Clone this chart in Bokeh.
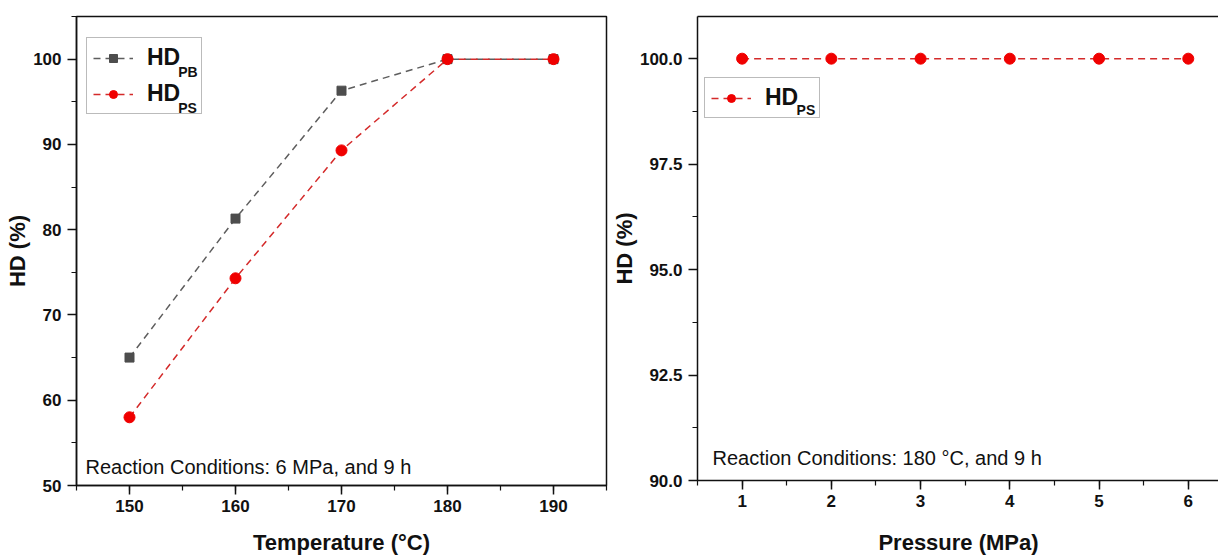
from bokeh.plotting import figure
from bokeh.layouts import row
from bokeh.models import (SingleIntervalTicker, NumeralTickFormatter, Legend, LegendItem,
                          Label, LinearAxis, FixedTicker, Range1d)
from bokeh.embed import file_html
from bokeh.resources import INLINE

# Hydrodeoxygenation degree vs. reaction temperature (6 MPa, 9 h)
temperature = [150, 160, 170, 180, 190]
hd_pb_temp = [65.0, 81.3, 96.3, 100.0, 100.0]
hd_ps_temp = [58.0, 74.3, 89.3, 100.0, 100.0]

# Hydrodeoxygenation degree vs. H2 pressure (180 °C, 9 h)
pressure = [1, 2, 3, 4, 5, 6]
hd_ps_pres = [100.0, 100.0, 100.0, 100.0, 100.0, 100.0]

temp_ticks_interval = 10
hd_ticks_interval = 10
pres_ticks_interval = 1
hd_pres_ticks_interval = 2.5

FONT = "Liberation Sans"
INK = "#111111"
GRAY_LINE = "#5e5e5e"
GRAY_MARK = "#4d4d4d"
RED_LINE = "#d42a2a"
RED_MARK = "#f00000"
DASH = "7 5"


def style_axes(p, x_label_standoff):
    for ax in p.xaxis + p.yaxis:
        ax.axis_line_width = 1.5
        ax.axis_line_color = INK
        ax.major_tick_line_width = 1.5
        ax.major_tick_line_color = INK
        ax.minor_tick_line_width = 1.2
        ax.minor_tick_line_color = INK
        ax.major_tick_in = 0
        ax.major_tick_out = 9
        ax.minor_tick_in = 0
        ax.minor_tick_out = 5
        ax.major_label_text_font = FONT
        ax.major_label_text_font_style = "bold"
        ax.major_label_text_font_size = "17px"
        ax.major_label_text_color = INK
        ax.axis_label_text_font = FONT
        ax.axis_label_text_font_style = "bold"
        ax.axis_label_text_font_size = "22px"
        ax.axis_label_text_color = INK
    for ax in p.xaxis:
        ax.major_label_standoff = 5
        ax.axis_label_standoff = x_label_standoff
    for ax in p.yaxis:
        ax.major_label_standoff = 6
        ax.axis_label_standoff = 0


def make_legend(items, loc):
    # transparent fill so the subscript labels drawn in the box stay visible
    return Legend(
        items=items, location=loc, orientation="vertical",
        glyph_width=40, glyph_height=20, label_standoff=14,
        label_width=48, label_height=27, spacing=9, padding=6, margin=0,
        label_text_font=FONT, label_text_font_style="bold",
        label_text_font_size="23px", label_text_color=INK,
        border_line_color="#777777", border_line_width=1,
        background_fill_alpha=0.0,
    )


def subscript(p, x, y, text):
    p.add_layout(Label(x=x, y=y, text=text, text_font=FONT, text_font_style="bold",
                       text_font_size="14px", text_color=INK, text_baseline="alphabetic",
                       level="overlay"))


def note(p, x, y, text):
    p.add_layout(Label(x=x, y=y, text=text, text_font=FONT, text_font_size="20px",
                       text_color=INK, text_baseline="alphabetic"))


# ---- left panel: temperature series ----
p1 = figure(frame_width=530, frame_height=469,
            min_border_left=76, min_border_right=2, min_border_top=13, min_border_bottom=74,
            x_range=Range1d(145, 195), y_range=Range1d(50, 105),
            x_axis_label="Temperature (°C)", y_axis_label="HD (%)",
            output_backend="svg", toolbar_location=None)
p1.grid.visible = False
p1.outline_line_color = INK
p1.outline_line_width = 1.5
p1.xaxis.ticker = SingleIntervalTicker(interval=temp_ticks_interval, num_minor_ticks=2)
p1.yaxis.ticker = SingleIntervalTicker(interval=hd_ticks_interval, num_minor_ticks=2)
style_axes(p1, 15)

l_pb = p1.line(temperature, hd_pb_temp, line_color=GRAY_LINE, line_width=1.5, line_dash=DASH)
s_pb = p1.scatter(temperature, hd_pb_temp, marker="square", size=9,
                  fill_color=GRAY_MARK, line_color=GRAY_MARK)
l_ps = p1.line(temperature, hd_ps_temp, line_color=RED_LINE, line_width=1.5, line_dash=DASH)
s_ps = p1.scatter(temperature, hd_ps_temp, marker="circle", size=11,
                  fill_color=RED_MARK, line_color=RED_MARK)

p1.add_layout(make_legend([LegendItem(label="HD", renderers=[l_pb, s_pb]),
                           LegendItem(label="HD", renderers=[l_ps, s_ps])], (10, 371)))
subscript(p1, 154.6, 98.5, "PB")
subscript(p1, 154.6, 94.3, "PS")
note(p1, 145.85, 52.2, "Reaction Conditions: 6 MPa, and 9 h")

# ---- right panel: pressure series ----
p2 = figure(frame_width=522, frame_height=464,
            min_border_left=88, min_border_right=0, min_border_top=16, min_border_bottom=76,
            x_range=Range1d(0.5, 6.35), y_range=Range1d(90, 101),
            x_axis_label="Pressure (MPa)", y_axis_label="HD (%)",
            output_backend="svg", toolbar_location=None)
p2.grid.visible = False
p2.outline_line_color = None
p2.xaxis.ticker = SingleIntervalTicker(interval=pres_ticks_interval, num_minor_ticks=2)
p2.yaxis.ticker = SingleIntervalTicker(interval=hd_pres_ticks_interval, num_minor_ticks=2)
p2.yaxis.formatter = NumeralTickFormatter(format="0.0")
style_axes(p2, 20)

# plain top border line
top = LinearAxis(ticker=FixedTicker(ticks=[]), axis_line_width=1.5, axis_line_color=INK,
                 major_label_text_font_size="0px", major_tick_out=0, minor_tick_out=0,
                 major_tick_in=0, minor_tick_in=0)
p2.add_layout(top, "above")

l_pp = p2.line(pressure, hd_ps_pres, line_color=RED_LINE, line_width=1.5, line_dash=DASH)
s_pp = p2.scatter(pressure, hd_ps_pres, marker="circle", size=11,
                  fill_color=RED_MARK, line_color=RED_MARK)
p2.add_layout(make_legend([LegendItem(label="HD", renderers=[l_pp, s_pp])], (7, 362)))
subscript(p2, 1.61, 98.78, "PS")
note(p2, 0.668, 90.54, "Reaction Conditions: 180 °C, and 9 h")

layout = row(p1, p2, spacing=0)
open("out.html", "w").write(file_html(layout, INLINE))
